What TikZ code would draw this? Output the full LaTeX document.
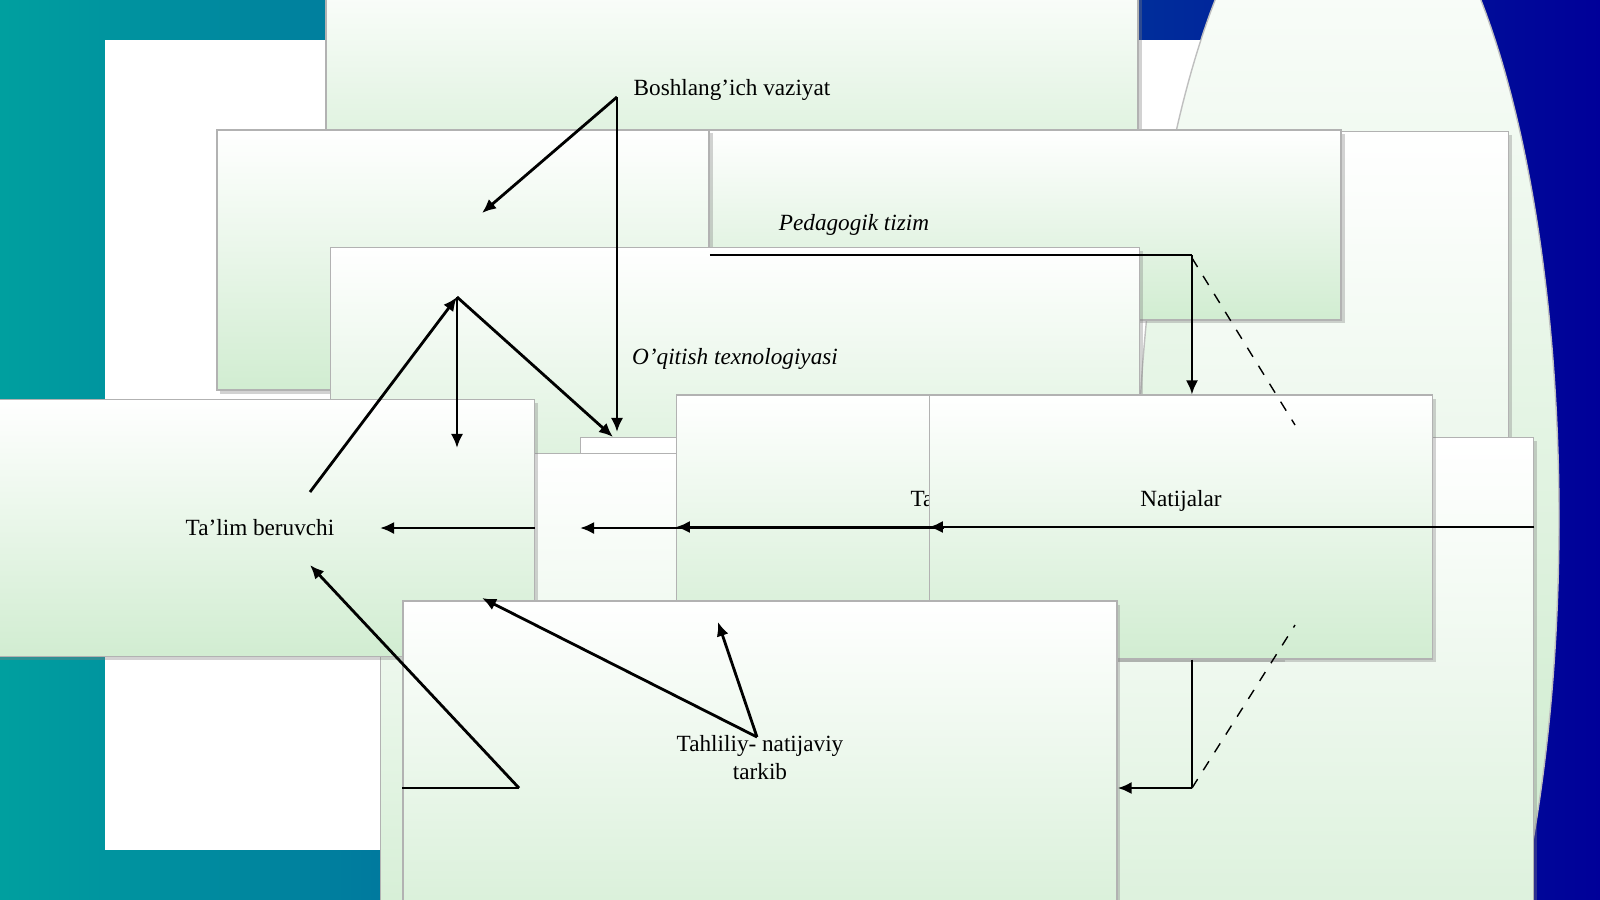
\documentclass[tikz,border=0pt]{standalone}
\usepackage{fontspec}
\setmainfont{Liberation Serif}
\usetikzlibrary{arrows.meta, shadows, shapes.geometric}

\begin{document}
\begin{tikzpicture}[x=0.01cm, y=-0.01cm,
  box/.style={draw=gray!60, top color=white, bottom color=green!60!black!18, drop shadow={opacity=0.35, shadow xshift=1pt, shadow yshift=-1pt}, inner sep=0pt, align=center, font=\fontsize{6.6}{7.8}\selectfont},
  arr/.style={-{Latex[length=4pt, width=3.5pt]}, thick},
  dashln/.style={dashed, thin}]

  % background
  \shade[left color=teal!75!cyan, right color=blue!60!black] (0,0) rectangle (1600,899);
  \fill[white] (105,40) rectangle (1495,850);
  \useasboundingbox (0,0) rectangle (1600,899);

  % ellipse
  \node[draw=gray!50, ellipse, top color=white, bottom color=green!60!black!25, minimum width=120, minimum height=380, inner sep=0pt] (res) at (1348,519) {};
  \node[box, minimum width=90, minimum height=225, font=\fontsize{6.6}{7.8}\selectfont] (resin) at (1350,527) {};
  \node[rotate=90, align=center, font=\fontsize{6.6}{7.8}\selectfont] at (1350,527) {Kechiktirilgan\\o'zgaruvchan natija};

  % boxes
  \node[box, minimum width=231, minimum height=70] (start) at (732,90) {Boshlang'ich vaziyat};
  \node[box, minimum width=277, minimum height=54, font=\fontsize{6.6}{7.8}\itshape] (ped) at (854,225) {Pedagogik tizim};
  \node[box, minimum width=140, minimum height=74] (goal) at (463,260) {Maqsadlar};
  \node[box, minimum width=230, minimum height=84, font=\fontsize{6.6}{7.8}\itshape] (tech) at (735,395) {O'qitish texnologiyasi\\[5mm]};
  \node[box, minimum width=271, minimum height=180, anchor=north west] (main) at (580,437) {};
  \node[align=center, font=\fontsize{6.6}{7.8}\selectfont, anchor=north] at (715,452) {O'qitish, axborot, muloqat va\\boshqaruvning yo'l\\va vositalari};
  \node[box, minimum width=160, minimum height=145, anchor=north west] (cont) at (380,453) {};
  \node[align=center, font=\fontsize{6.6}{7.8}\selectfont, anchor=north] at (460,472) {O'quv axboroti\\mazmuni};
  \node[box, minimum width=156, minimum height=73] (teach) at (260,528) {Ta'lim beruvchi};
  \node[box, minimum width=172, minimum height=75] (learn) at (979,527) {Ta'lim oluvchi\\[3mm]};
  \node[box, minimum width=143, minimum height=75] (out) at (1181,527) {Natijalar\\[3mm]};
  \node[box, minimum width=203, minimum height=108] (anal) at (760,791) {Tahliliy- natijaviy\\tarkib\\[4mm]};

  % connectors
  \coordinate (s1) at (617,97);
  \coordinate (c1) at (1192,255);
  \coordinate (c2) at (1192,788);
  \coordinate (c3) at (519,788);
  \draw[arr] (s1) -- (482,213);
  \draw[arr] (s1) -- (617,432);
  \draw[thick] (goal.east |- c1) -- (c1);
  \draw[arr] (c1) -- (out.north -| c1);
  \draw[arr] (457,297) -- (457,448);
  \draw[arr] (457,297) -- (613,437);
  \draw[arr] (310,492) -- (457,297);
  \draw[arr] (teach.east) -- (cont.west |- teach.east);
  \draw[arr] (cont.east |- teach.east) -- (main.west |- teach.east);
  \draw[arr] (main.east |- learn.west) -- (learn.west);
  \draw[arr] (learn.east) -- (out.west);
  \draw[thick] (out.south -| c2) -- (c2);
  \draw[arr] (c2) -- (anal.east |- c2);
  \draw[thick] (anal.west |- c3) -- (c3);
  \draw[arr] (c3) -- (310,565);
  \draw[arr] (757,737) -- (482,598);
  \draw[arr] (757,737) -- (718,622);
  \draw[dashln] (1192,258) -- (1295,425);
  \draw[dashln] (out.east) -- (1290,527);
  \draw[dashln] (c2) -- (1295,625);

\end{tikzpicture}
\end{document}
